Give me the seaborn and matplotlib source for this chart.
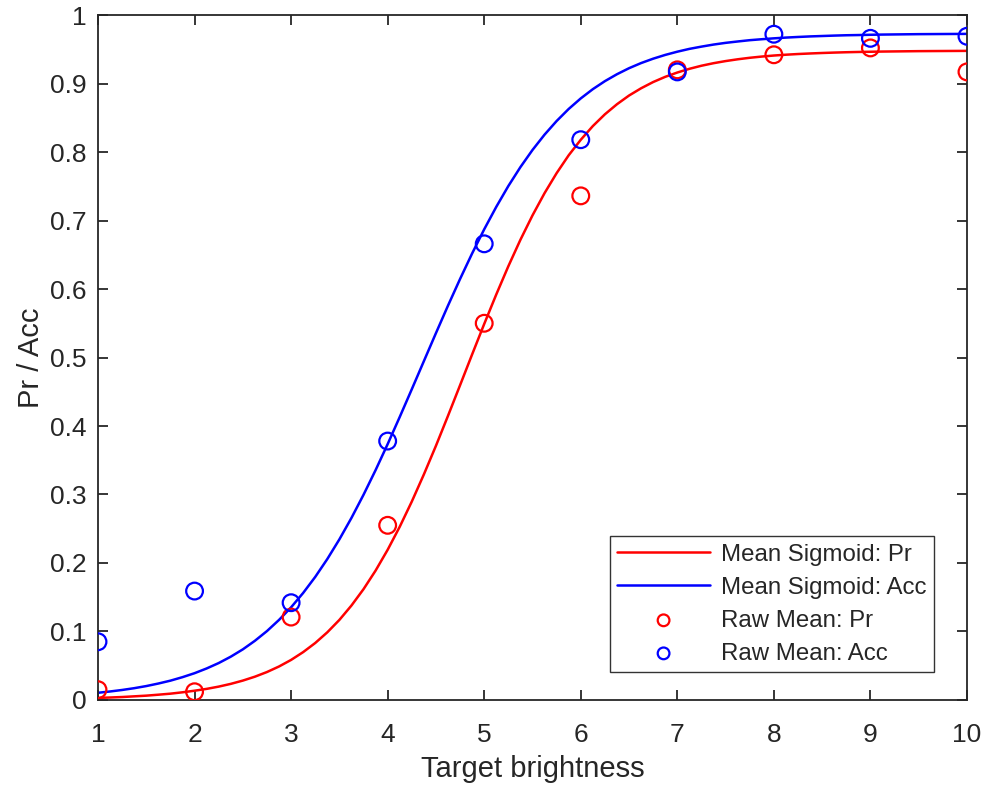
import numpy as np
import pandas as pd
import matplotlib
matplotlib.use("Agg")
import matplotlib.pyplot as plt
import seaborn as sns

# raw means per target brightness level
brightness = [1, 2, 3, 4, 5, 6, 7, 8, 9, 10]
raw_pr = [0.015, 0.012, 0.121, 0.255, 0.550, 0.736, 0.920, 0.942, 0.952, 0.917]
raw_acc = [0.085, 0.159, 0.142, 0.378, 0.666, 0.818, 0.917, 0.972, 0.966, 0.969]

# mean sigmoid curves, every 0.125 units
curve_x = [1.0, 1.125, 1.25, 1.375, 1.5, 1.625, 1.75, 1.875,
           2.0, 2.125, 2.25, 2.375, 2.5, 2.625, 2.75, 2.875,
           3.0, 3.125, 3.25, 3.375, 3.5, 3.625, 3.75, 3.875,
           4.0, 4.125, 4.25, 4.375, 4.5, 4.625, 4.75, 4.875,
           5.0, 5.125, 5.25, 5.375, 5.5, 5.625, 5.75, 5.875,
           6.0, 6.125, 6.25, 6.375, 6.5, 6.625, 6.75, 6.875,
           7.0, 7.125, 7.25, 7.375, 7.5, 7.625, 7.75, 7.875,
           8.0, 8.125, 8.25, 8.375, 8.5, 8.625, 8.75, 8.875,
           9.0, 9.125, 9.25, 9.375, 9.5, 9.625, 9.75, 9.875, 10.0]
sig_pr = [0.0030, 0.0036, 0.0043, 0.0053, 0.0063, 0.0077, 0.0092, 0.0112,
          0.0135, 0.0162, 0.0195, 0.0235, 0.0283, 0.0340, 0.0408, 0.0489,
          0.0585, 0.0699, 0.0832, 0.0988, 0.1169, 0.1379, 0.1618, 0.1889,
          0.2193, 0.2529, 0.2897, 0.3293, 0.3711, 0.4149, 0.4596, 0.5046,
          0.5490, 0.5921, 0.6333, 0.6719, 0.7075, 0.7400, 0.7692, 0.7953,
          0.8179, 0.8379, 0.8551, 0.8698, 0.8825, 0.8931, 0.9022, 0.9098,
          0.9161, 0.9215, 0.9260, 0.9297, 0.9328, 0.9354, 0.9376, 0.9394,
          0.9409, 0.9421, 0.9431, 0.9439, 0.9446, 0.9452, 0.9457, 0.9461,
          0.9464, 0.9467, 0.9469, 0.9471, 0.9473, 0.9474, 0.9475, 0.9476, 0.9477]
sig_acc = [0.0105, 0.0124, 0.0146, 0.0172, 0.0203, 0.0240, 0.0282, 0.0333,
           0.0391, 0.0460, 0.0539, 0.0632, 0.0739, 0.0864, 0.1006, 0.1169,
           0.1353, 0.1563, 0.1797, 0.2058, 0.2345, 0.2658, 0.2996, 0.3356,
           0.3736, 0.4132, 0.4537, 0.4947, 0.5356, 0.5758, 0.6147, 0.6520,
           0.6872, 0.7200, 0.7504, 0.7780, 0.8030, 0.8254, 0.8453, 0.8629,
           0.8783, 0.8918, 0.9035, 0.9136, 0.9224, 0.9299, 0.9363, 0.9418,
           0.9465, 0.9506, 0.9539, 0.9569, 0.9594, 0.9614, 0.9633, 0.9647,
           0.9660, 0.9671, 0.9680, 0.9688, 0.9694, 0.9700, 0.9705, 0.9708,
           0.9712, 0.9715, 0.9717, 0.9719, 0.9721, 0.9722, 0.9723, 0.9724, 0.9725]

sns.set_style("ticks")
plt.rcParams['font.family'] = ['Liberation Sans', 'DejaVu Sans']
dark = "#262626"

fig = plt.figure(figsize=(9.85, 7.92), dpi=100)
ax = fig.add_axes([0.0995, 0.1162, 0.8822, 0.8648])

curves = pd.DataFrame({"x": curve_x, "pr": sig_pr, "acc": sig_acc})
raw = pd.DataFrame({"x": brightness, "pr": raw_pr, "acc": raw_acc})

sns.lineplot(data=curves, x="x", y="pr", color="#ff0000", linewidth=1.8,
             label="Mean Sigmoid: Pr", ax=ax)
sns.lineplot(data=curves, x="x", y="acc", color="#0000ff", linewidth=1.8,
             label="Mean Sigmoid: Acc", ax=ax)
sns.scatterplot(data=raw, x="x", y="pr", marker="o", s=145, facecolor="none",
                edgecolor="#ff0000", linewidth=1.6, label="Raw Mean: Pr",
                ax=ax, zorder=3)
sns.scatterplot(data=raw, x="x", y="acc", marker="o", s=145, facecolor="none",
                edgecolor="#0000ff", linewidth=1.6, label="Raw Mean: Acc",
                ax=ax, zorder=3)

ax.set_xlim(1, 10)
ax.set_ylim(0, 1)
ax.set_xticks(brightness)
ax.set_xticklabels([str(b) for b in brightness])
ax.set_yticks(np.round(np.arange(0, 1.01, 0.1), 1))
ax.set_yticklabels(["0", "0.1", "0.2", "0.3", "0.4", "0.5", "0.6", "0.7", "0.8", "0.9", "1"])
ax.tick_params(direction="in", length=7, width=1.3, colors=dark,
               labelsize=19, top=True, right=True)
ax.tick_params(axis="x", pad=16.5)
ax.tick_params(axis="y", pad=8)
for sp in ax.spines.values():
    sp.set_visible(True)
    sp.set_color(dark)
    sp.set_linewidth(1.3)

ax.set_xlabel("Target brightness", fontsize=21, color=dark)
ax.set_ylabel("Pr / Acc", fontsize=21, color=dark)
ax.xaxis.set_label_coords(0.5, -0.080)
ax.yaxis.set_label_coords(-0.0615, 0.5)

leg = ax.legend(loc="lower right", bbox_to_anchor=(0.962, 0.041),
                borderaxespad=0, fontsize=17.3, frameon=True, fancybox=False,
                edgecolor="black", handlelength=3.9, markerscale=0.7,
                borderpad=0.3, labelspacing=0.46, handletextpad=0.45)
leg.get_frame().set_linewidth(1.0)
for t in leg.get_texts():
    t.set_color(dark)

fig.savefig("out.png", dpi=100)
